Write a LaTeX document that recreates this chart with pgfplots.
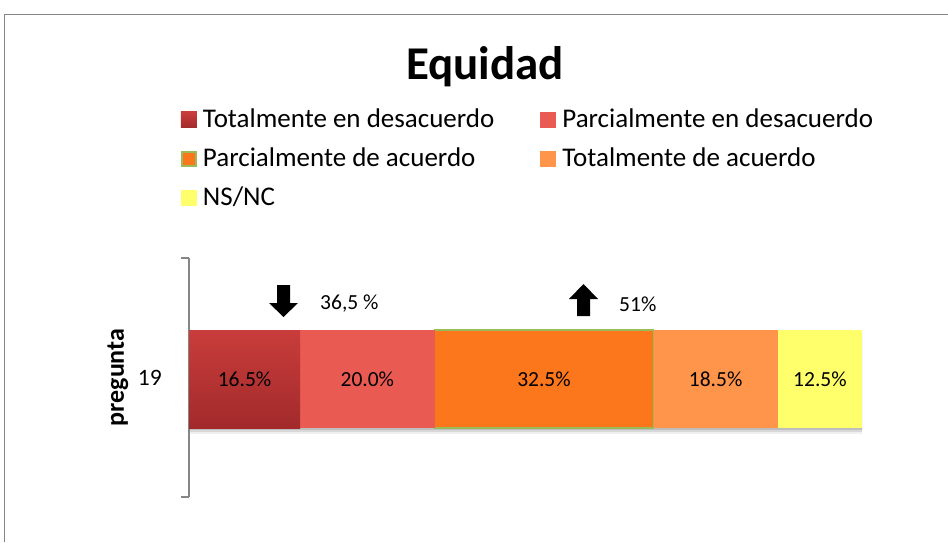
\documentclass[border=0pt]{standalone}
\usepackage{pgfplots}
\pgfplotsset{compat=1.18}
\usepackage{fontspec}
\setmainfont{Carlito}

\definecolor{tdTop}{HTML}{C93D3B}
\definecolor{tdBot}{HTML}{A22A2B}
\definecolor{pdes}{HTML}{E95A52}
\definecolor{pacu}{HTML}{FC761B}
\definecolor{tacu}{HTML}{FF944B}
\definecolor{nsnc}{HTML}{FFFF6B}
\definecolor{verde}{HTML}{9BBB59}
\definecolor{eje}{HTML}{868686}

\pgfplotsset{
  legsq/.style={legend image code/.code={\fill[##1,draw=none] (0pt,-8pt) rectangle (16pt,8pt);}},
  legsqb/.style={legend image code/.code={%
    \draw[draw=verde, fill=pacu, line width=2pt] (1pt,-7pt) rectangle (15pt,7pt);}},
  marco/.style={at={(189pt,45pt)}, anchor=south west,
    scale only axis, width=673pt, height=239pt,
    xmin=0, xmax=100, ymin=0, ymax=2},
}

\begin{document}
\begin{tikzpicture}[x=1pt,y=1pt]
\useasboundingbox (0,0) rectangle (948,542);
% marco del grafico (cortado a la derecha y abajo)
\draw[eje, line width=1.5pt] (4.7,0) -- (4.7,527.3) -- (948,527.3);

\node[anchor=base, font=\fontsize{47}{50}\selectfont\bfseries] at (485,462) {Equidad};

% sombra suave bajo la barra
\begin{axis}[marco, hide axis, xbar, bar width=0.82]
\addplot[draw=none, fill=black, opacity=0.06, bar shift=-0.05] coordinates {(100.4,0.987)};
\addplot[draw=none, fill=black, opacity=0.10, bar shift=-0.03] coordinates {(100.2,0.987)};
\addplot[draw=none, fill=black, opacity=0.12, bar shift=-0.015] coordinates {(100.1,0.987)};
\end{axis}

\begin{axis}[
  marco,
  xbar stacked, bar width=0.82,
  axis x line=none, axis y line*=left,
  y axis line style={draw=eje, line width=1.5pt},
  ytick={1}, yticklabels={19},
  major tick length=0pt,
  extra y ticks={0,2}, extra y tick labels={},
  extra y tick style={major tick length=8pt, tick align=outside, tick pos=left,
    major tick style={draw=eje, line width=1.5pt}},
  yticklabel style={inner sep=0pt, xshift=-27pt, font=\fontsize{23.5}{26}\selectfont},
  /pgf/number format/assume math mode=true,
  ylabel={pregunta},
  ylabel style={at={(axis description cs:-0.1055,0.5)}, anchor=center,
    font=\fontsize{26}{28}\selectfont\bfseries},
  legend columns=2,
  legend style={at={(-0.0119,1.636)}, anchor=north west, draw=none, fill=none,
    inner sep=0pt, outer sep=0pt,
    font=\fontsize{27}{30}\selectfont,
    nodes={inner sep=0pt, text height=22pt, text depth=6pt},
    row sep=11pt,
    /tikz/every odd column/.append style={column sep=6pt},
    /tikz/every even column/.append style={column sep=46pt}},
  legend cell align=left,
]
\addplot[legsq, draw=none, top color=tdTop, bottom color=tdBot]
  coordinates {(16.5,0.987)};
\addplot[legsq, draw=none, fill=pdes] coordinates {(20.0,0.987)};
\addplot[legsqb, draw=verde, line width=1.5pt, fill=pacu] coordinates {(32.5,0.987)};
\addplot[legsq, draw=none, fill=tacu] coordinates {(18.5,0.987)};
\addplot[legsq, draw=none, fill=nsnc] coordinates {(12.5,0.987)};
\legend{Totalmente en desacuerdo, Parcialmente en desacuerdo,
  Parcialmente de acuerdo, Totalmente de acuerdo, NS/NC}
\end{axis}

% etiquetas de datos centradas en cada segmento
\begin{axis}[marco, hide axis]
\addplot[draw=none, nodes near coords, point meta=explicit symbolic,
  every node near coord/.append style={anchor=center, font=\fontsize{21.5}{24}\selectfont}]
  coordinates {(8.25,0.987) [16.5\%] (26.5,0.987) [20.0\%] (52.75,0.987) [32.5\%]
               (78.25,0.987) [18.5\%] (93.75,0.987) [12.5\%]};
\end{axis}

% flechas y anotaciones
\fill[black] (277,257) -- (290,257) -- (290,239) -- (298,239) -- (283.5,225)
  -- (269,239) -- (277,239) -- cycle;
\node[anchor=west, inner sep=0pt, font=\fontsize{21.5}{24}\selectfont] at (320,238) {36,5 \%};
\fill[black] (583.5,258) -- (598,243) -- (590,243) -- (590,226) -- (577,226)
  -- (577,243) -- (569,243) -- cycle;
\node[anchor=west, inner sep=0pt, font=\fontsize{21.5}{24}\selectfont] at (619,238) {51\%};
\end{tikzpicture}
\end{document}
